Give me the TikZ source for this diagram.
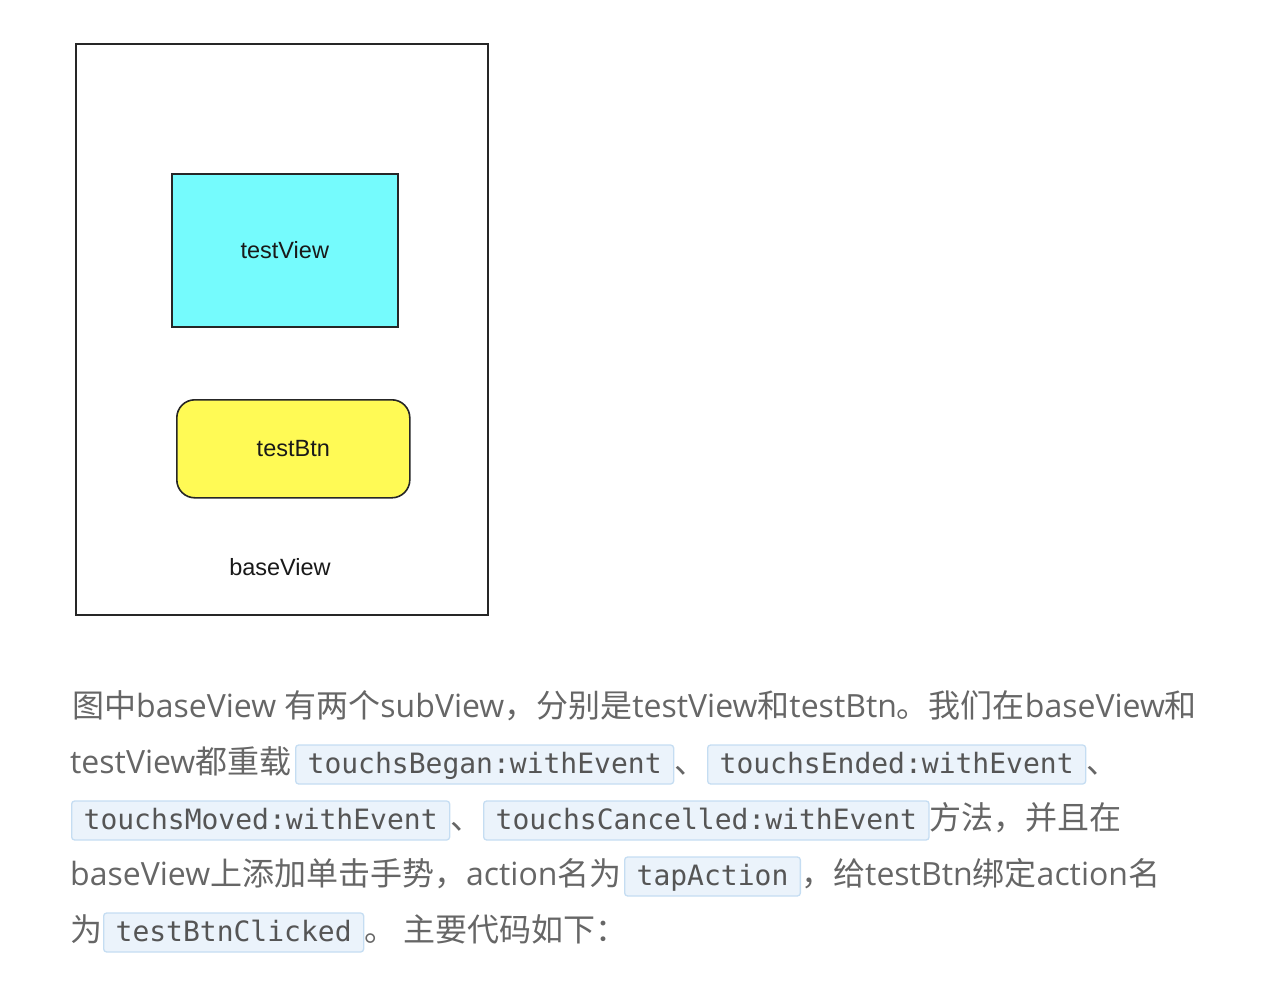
\documentclass[tikz,border=0pt]{standalone}
\usepackage{fontspec}
\setmainfont{Open Sans}
\setmonofont{DejaVu Sans Mono}
\newfontfamily\zhfont{Noto Sans CJK SC}
\newfontfamily\viewfont{Liberation Sans}
\newcommand{\zh}[1]{{\zhfont #1}}
\definecolor{viewcyan}{RGB}{117,251,253}
\definecolor{btnyellow}{RGB}{255,250,85}
\definecolor{textgray}{RGB}{102,102,102}
\definecolor{codegray}{RGB}{85,85,85}
\definecolor{codefill}{RGB}{235,243,251}
\definecolor{codeborder}{RGB}{197,221,242}

\begin{document}
\begin{tikzpicture}[x=1pt,y=-1pt]
        %
        % `viewbox' is used for the three views of the sketch.
        % `para' is used for the running text, `codebox' for the method names.
        \tikzstyle{viewbox} = [draw=black!85,line width=1.6pt,inner sep=0pt,anchor=north west,font=\viewfont\fontsize{23.5}{28}\selectfont,text=black!90]
        \tikzstyle{para} = [anchor=base west,inner sep=0pt,text=textgray,font=\fontsize{32}{38}\selectfont]
        \tikzstyle{codebox} = [anchor=base west,draw=codeborder,fill=codefill,line width=1.3pt,rounded corners=3pt,inner xsep=12pt,inner ysep=0pt,text height=28pt,text depth=11pt,text=codegray,font=\ttfamily\fontsize{28}{34}\selectfont]
        %
        \useasboundingbox (0,0) rectangle (1270,982);
        %
        % Views
        \node[viewbox,fill=white,minimum width=412pt,minimum height=571pt] (base) at (75,43) {};
        \node[viewbox,fill=viewcyan,minimum width=226pt,minimum height=153pt] (testView) at (171,173) {testView};
        \node[viewbox,fill=btnyellow,rounded corners=18pt,minimum width=233pt,minimum height=98pt] (testBtn) at (176,399) {testBtn};
        \node[font=\viewfont\fontsize{23.5}{28}\selectfont,text=black!90] (baseLabel) at (280,567) {baseView};
        %
        % Line 1
        \node[para] (l1) at (72,717) {\zh{图中}baseView \zh{有两个}subView\zh{，分别是}testView\zh{和}testBtn\zh{。我们在}baseView\zh{和}};
        %
        % Line 2
        \node[para] (l2a) at (70,773) {testView\zh{都重载}};
        \node[codebox] (began) at (295,773) {touchsBegan:withEvent};
        \node[para] (l2b) at (began.base east) {\zh{、}};
        \node[codebox] (ended) at (707,773) {touchsEnded:withEvent};
        \node[para] (l2c) at (ended.base east) {\zh{、}};
        %
        % Line 3
        \node[codebox] (moved) at (71,829) {touchsMoved:withEvent};
        \node[para] (l3a) at (moved.base east) {\zh{、}};
        \node[codebox] (cancelled) at (483,829) {touchsCancelled:withEvent};
        \node[para] (l3b) at (cancelled.base east) {\zh{方法，并且在}};
        %
        % Line 4
        \node[para] (l4a) at (70,885) {baseView\zh{上添加单击手势，}action\zh{名为}};
        \node[codebox] (tap) at (624,885) {tapAction};
        \node[para] (l4b) at (tap.base east) {\zh{，给}testBtn\zh{绑定}action\zh{名}};
        %
        % Line 5
        \node[para] (l5a) at (70,941) {\zh{为}};
        \node[codebox] (clicked) at (103,941) {testBtnClicked};
        \node[para] (l5b) at (clicked.base east) {\zh{。 主要代码如下：}};
        %
\end{tikzpicture}
\end{document}
